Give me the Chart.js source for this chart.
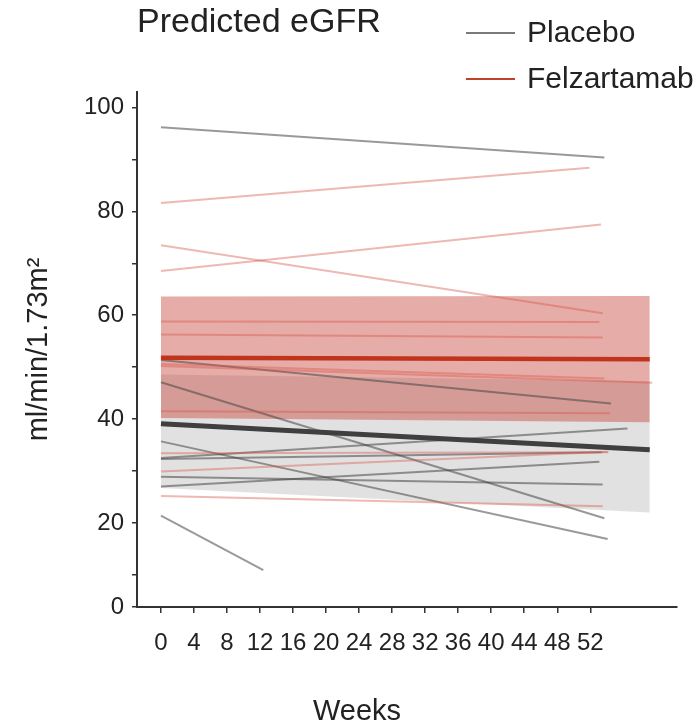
<!DOCTYPE html>
<html>
<head>
<meta charset="utf-8">
<script src="https://cdn.jsdelivr.net/npm/chart.js@4.4.1/dist/chart.umd.min.js"></script>
<style>
  html, body { margin: 0; padding: 0; background: #fff; }
  #wrap { width: 697px; height: 727px; }
</style>
</head>
<body>
<div id="wrap"><canvas id="egfrChart" width="697" height="727"></canvas></div>
<script>
    // Значения (недели / мл/мин/1.73м2)
    const xTickLabels = [0, 4, 8, 12, 16, 20, 24, 28, 32, 36, 40, 44, 48, 52];
    const yTickValues = [10, 20, 30, 40, 50, 60, 70, 80, 90, 100];
    const yMin = 3.8;

    // Placebo, отдельные пациенты: старт (неделя 0), конец, неделя конца
    const placeboStart   = [96.2, 51.4, 47.1, 35.7, 32.5, 32.3, 27.0, 28.9, 21.4];
    const placeboEnd     = [90.4, 43.0, 20.9, 16.9, 38.2, 33.6, 31.8, 27.4, 10.9];
    const placeboEndWeek = [53.7, 54.5, 53.7, 54.1, 56.5, 53.4, 53.1, 53.5, 12.4];

    // Felzartamab, отдельные пациенты
    const felzStart   = [81.6, 73.5, 68.5, 58.8, 56.3, 50.6, 50.2, 41.5, 33.4, 29.9, 25.2];
    const felzEnd     = [88.4, 60.4, 77.5, 58.7, 55.7, 47.8, 47.0, 41.1, 33.6, 33.7, 23.2];
    const felzEndWeek = [51.9, 53.5, 53.3, 53.1, 53.5, 53.7, 59.5, 54.4, 54.2, 54.1, 53.5];

    // Средние и доверительные полосы (неделя 0 и конец)
    const bandWeeks    = [0, 59.2];
    const placeboMean  = [39.1, 34.1];
    const placeboUpper = [48.6, 47.3];
    const placeboLower = [26.7, 22.0];
    const felzMean     = [51.8, 51.5];
    const felzUpper    = [63.6, 63.7];
    const felzLower    = [40.2, 39.4];

    const legendNames  = ['Placebo', 'Felzartamab'];
    const legendColors = ['#7a7a7a', '#c0402c'];

    const FONT = '"Liberation Sans", Arial, sans-serif';

    function toPoints(weeks, values) {
        return weeks.map((w, i) => ({x: w, y: values[i]}));
    }

    function segment(label, y0, y1, w1, color, order) {
        return {
            label: label,
            data: [{x: 0, y: y0}, {x: w1, y: y1}],
            borderColor: color,
            borderWidth: 2,
            pointRadius: 0,
            fill: false,
            order: order
        };
    }

    const datasets = [];

    // полосы
    datasets.push({
        label: 'felzUpper', data: toPoints(bandWeeks, felzUpper),
        borderWidth: 0, pointRadius: 0,
        backgroundColor: 'rgba(200, 70, 60, 0.45)', fill: 1, order: 2
    });
    datasets.push({
        label: 'felzLower', data: toPoints(bandWeeks, felzLower),
        borderWidth: 0, pointRadius: 0, fill: false, order: 2
    });
    datasets.push({
        label: 'placeboUpper', data: toPoints(bandWeeks, placeboUpper),
        borderWidth: 0, pointRadius: 0,
        backgroundColor: 'rgba(196, 196, 196, 0.5)', fill: 3, order: 3
    });
    datasets.push({
        label: 'placeboLower', data: toPoints(bandWeeks, placeboLower),
        borderWidth: 0, pointRadius: 0, fill: false, order: 3
    });

    // отдельные линии
    felzStart.forEach((v, i) => {
        datasets.push(segment('felz' + i, v, felzEnd[i], felzEndWeek[i], 'rgba(215, 85, 75, 0.42)', 1));
    });
    placeboStart.forEach((v, i) => {
        datasets.push(segment('placebo' + i, v, placeboEnd[i], placeboEndWeek[i], 'rgba(70, 70, 70, 0.55)', 1));
    });

    // средние
    datasets.push({
        label: 'placeboMean', data: toPoints(bandWeeks, placeboMean),
        borderColor: '#3f3f3f', borderWidth: 5, pointRadius: 0, fill: false, order: 0
    });
    datasets.push({
        label: 'felzMean', data: toPoints(bandWeeks, felzMean),
        borderColor: '#c0341c', borderWidth: 4.5, pointRadius: 0, fill: false, order: 0
    });

    // заголовок, легенда и подпись оси X
    const headerPlugin = {
        id: 'header',
        afterDraw(chart) {
            const ctx = chart.ctx;
            ctx.save();
            ctx.fillStyle = '#222';
            ctx.textBaseline = 'middle';
            ctx.textAlign = 'left';
            ctx.font = '34px ' + FONT;
            ctx.fillText('Predicted eGFR', 137, 23);
            ctx.font = '30px ' + FONT;
            legendNames.forEach((name, i) => {
                const y = 33 + i * 46;
                ctx.strokeStyle = legendColors[i];
                ctx.lineWidth = 2;
                ctx.beginPath();
                ctx.moveTo(466, y);
                ctx.lineTo(515, y);
                ctx.stroke();
                ctx.fillText(name, 527, y + 1);
            });
            ctx.textAlign = 'center';
            ctx.font = '29px ' + FONT;
            ctx.fillText('Weeks', 357, 712);
            ctx.restore();
        }
    };

    const ctx = document.getElementById('egfrChart').getContext('2d');
    const chart = new Chart(ctx, {
        type: 'line',
        data: { datasets: datasets },
        options: {
            responsive: false,
            animation: false,
            devicePixelRatio: 1,
            layout: { padding: { top: 92, right: 20, left: 0, bottom: 0 } },
            plugins: {
                legend: { display: false },
                tooltip: { enabled: false },
                title: { display: false }
            },
            scales: {
                x: {
                    type: 'linear',
                    min: -2.9,
                    max: 62.5,
                    afterBuildTicks: axis => {
                        axis.ticks = xTickLabels.map(v => ({value: v}));
                    },
                    afterFit: axis => { axis.height = 120; },
                    ticks: {
                        autoSkip: false,
                        maxRotation: 0,
                        color: '#222',
                        padding: 16,
                        font: { family: FONT, size: 24 }
                    },
                    grid: { drawOnChartArea: false, tickLength: 6, color: '#333', lineWidth: 1.5 },
                    border: { display: true, color: '#333', width: 2 }
                },
                y: {
                    type: 'linear',
                    min: yMin,
                    max: 103,
                    afterBuildTicks: axis => {
                        axis.ticks = [yMin].concat(yTickValues).map(v => ({value: v}));
                    },
                    afterFit: axis => { axis.width = 137; },
                    ticks: {
                        autoSkip: false,
                        color: '#222',
                        padding: 8,
                        font: { family: FONT, size: 24 },
                        callback: v => (v === yMin ? '0' : (v % 20 === 0 ? String(v) : ''))
                    },
                    grid: { drawOnChartArea: false, tickLength: 5, color: '#333', lineWidth: 1.5 },
                    border: { display: true, color: '#333', width: 2 },
                    title: {
                        display: true,
                        text: 'ml/min/1.73m²',
                        color: '#222',
                        font: { family: FONT, size: 29 },
                        padding: { top: 22, bottom: 0 }
                    }
                }
            }
        },
        plugins: [headerPlugin]
    });
</script>
</body>
</html>
